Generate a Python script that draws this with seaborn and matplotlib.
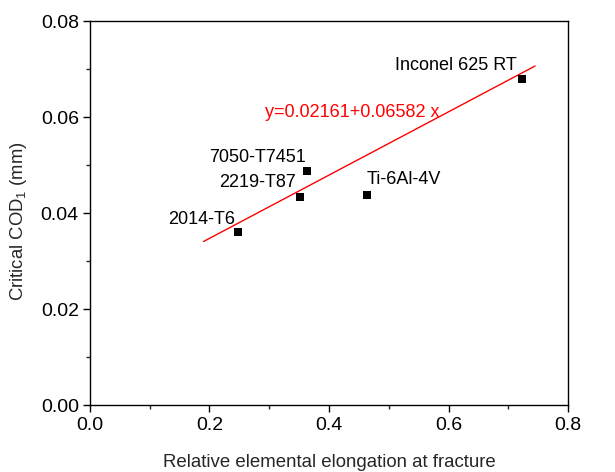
import matplotlib
matplotlib.use("Agg")
import matplotlib.pyplot as plt
from matplotlib.ticker import MultipleLocator
import numpy as np
import pandas as pd
import seaborn as sns

# Measured data
alloys = ["2014-T6", "2219-T87", "7050-T7451", "Ti-6Al-4V", "Inconel 625 RT"]
elongation = [0.247, 0.351, 0.364, 0.463, 0.723]
critical_cod = [0.0360, 0.0434, 0.0488, 0.0439, 0.0679]

# Linear fit y = a + b x
fit_intercept = 0.02161
fit_slope = 0.06582
fit_range = [0.19, 0.745]

sns.set_theme(style="ticks")
plt.rcParams["font.family"] = ["Liberation Sans", "DejaVu Sans"]
plt.rcParams["mathtext.fontset"] = "custom"
plt.rcParams["mathtext.rm"] = "Liberation Sans"
plt.rcParams["mathtext.it"] = "Liberation Sans:italic"

df = pd.DataFrame({"alloy": alloys, "elong": elongation, "cod": critical_cod})
fit_x = np.array(fit_range)
fit_df = pd.DataFrame({"x": fit_x, "y": fit_intercept + fit_slope * fit_x})

fig = plt.figure(figsize=(6.15, 4.72), dpi=100)
ax = fig.add_axes([0.1463, 0.1409, 0.7773, 0.8146])

sns.lineplot(data=fit_df, x="x", y="y", color="red", linewidth=1.0, ax=ax)
sns.scatterplot(data=df, x="elong", y="cod", marker="s", color="black",
                s=40, edgecolor="black", linewidth=0, ax=ax, zorder=3)

# Alloy labels, offsets in points from each marker
offsets = {
    "2014-T6": (-1.5, 9.5, "right"),
    "2219-T87": (-3, 10.5, "right"),
    "7050-T7451": (-1.5, 10, "right"),
    "Ti-6Al-4V": (0, 10.5, "left"),
    "Inconel 625 RT": (-3.6, 10, "right"),
}
for name, xv, yv in zip(alloys, elongation, critical_cod):
    dx, dy, ha = offsets[name]
    ax.annotate(name, (xv, yv), xytext=(dx, dy), textcoords="offset points",
                ha=ha, va="center", fontsize=13, color="black")

ax.text(0.293, 0.0609, f"y={fit_intercept}+{fit_slope} x", color="red",
        fontsize=13, ha="left", va="center")

ax.set_xlim(0.0, 0.8)
ax.set_ylim(0.0, 0.08)
ax.xaxis.set_major_locator(MultipleLocator(0.2))
ax.xaxis.set_minor_locator(MultipleLocator(0.1))
ax.yaxis.set_major_locator(MultipleLocator(0.02))
ax.yaxis.set_minor_locator(MultipleLocator(0.01))
ax.set_xticklabels([f"{v:.1f}" for v in ax.get_xticks()])
ax.set_yticklabels([f"{v:.2f}" for v in ax.get_yticks()])

for side in ["top", "right", "left", "bottom"]:
    ax.spines[side].set_visible(True)
    ax.spines[side].set_linewidth(1.0)
    ax.spines[side].set_color("black")
ax.tick_params(which="major", direction="out", length=5, width=1.0,
               labelsize=14, colors="black", pad=3,
               top=False, right=False)
ax.tick_params(which="minor", direction="out", length=3, width=1.0,
               top=False, right=False)

ax.set_xlabel("Relative elemental elongation at fracture", fontsize=13.4, labelpad=15)
ax.set_ylabel("Critical COD$_1$ (mm)", fontsize=13.3)
ax.yaxis.set_label_coords(-0.128, 0.48)

fig.savefig("out.png", dpi=100)
